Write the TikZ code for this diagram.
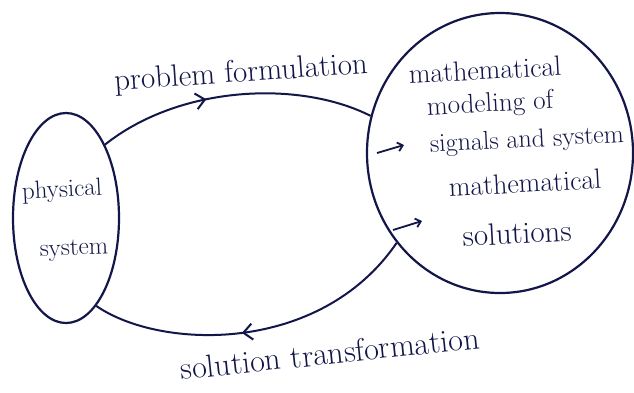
\documentclass[tikz,border=0pt]{standalone}
\usetikzlibrary{shapes.geometric,arrows.meta,decorations.markings}
\definecolor{ink}{RGB}{18,22,72}
\begin{document}
\begin{tikzpicture}[x=1pt,y=-1pt,
  line width=2.2pt, draw=ink, text=ink,
  blob/.style={draw=ink, ellipse, inner sep=0pt},
  lbl/.style={inner sep=0pt, text=ink},
  flowarc/.style={draw=ink, line width=2pt, postaction={decorate},
    decoration={markings, mark=at position #1 with {\arrow{Straight Barb[length=9pt,width=16pt,line width=2pt]}}}},
  bullet/.style={draw=ink, line width=1.8pt, -{Straight Barb[length=5pt,width=9pt]}}]
\useasboundingbox (0,0) rectangle (634,392);
\fill[white] (0,0) rectangle (634,392);
% shapes
\node[blob, minimum width=106pt, minimum height=210pt] (phys) at (66,218) {};
\node[blob, minimum width=266pt, minimum height=280pt] (math) at (500,153) {};
% connectors
\draw[flowarc=0.4] (phys.62) .. controls (180,85) and (300,80) .. (math.164);
\draw[flowarc=0.55] (math.221) .. controls (320,355) and (160,350) .. (phys.-71);
% labels on connectors
\node[lbl, rotate=4, font=\fontsize{31}{34}\selectfont] (lp) at (241,74) {problem formulation};
\node[lbl, rotate=6, font=\fontsize{32}{34}\selectfont] (ls) at (330,353) {solution transformation};
% left text
\node[lbl, rotate=3, font=\fontsize{25}{28}\selectfont] (t1) at (62,191) {physical};
\node[lbl, rotate=2, font=\fontsize{25}{28}\selectfont] (t2) at (74,250) {system};
% right text
\node[lbl, rotate=3, font=\fontsize{28}{30}\selectfont] (m1) at (485,70) {mathematical};
\node[lbl, rotate=3, font=\fontsize{27}{30}\selectfont] (m2) at (490,105) {modeling of};
\node[lbl, rotate=3, font=\fontsize{26}{30}\selectfont] (m3) at (527,141) {signals and system};
\node[lbl, rotate=3, font=\fontsize{28}{30}\selectfont] (m4) at (525,183) {mathematical};
\node[lbl, rotate=3, font=\fontsize{31}{32}\selectfont] (m5) at (517,233) {solutions};
% bullet arrows
\coordinate (b1s) at (377,153); \coordinate (b1e) at (404,145);
\coordinate (b2s) at (393,230); \coordinate (b2e) at (422,221);
\draw[bullet] (b1s) -- (b1e);
\draw[bullet] (b2s) -- (b2e);
\end{tikzpicture}
\end{document}
